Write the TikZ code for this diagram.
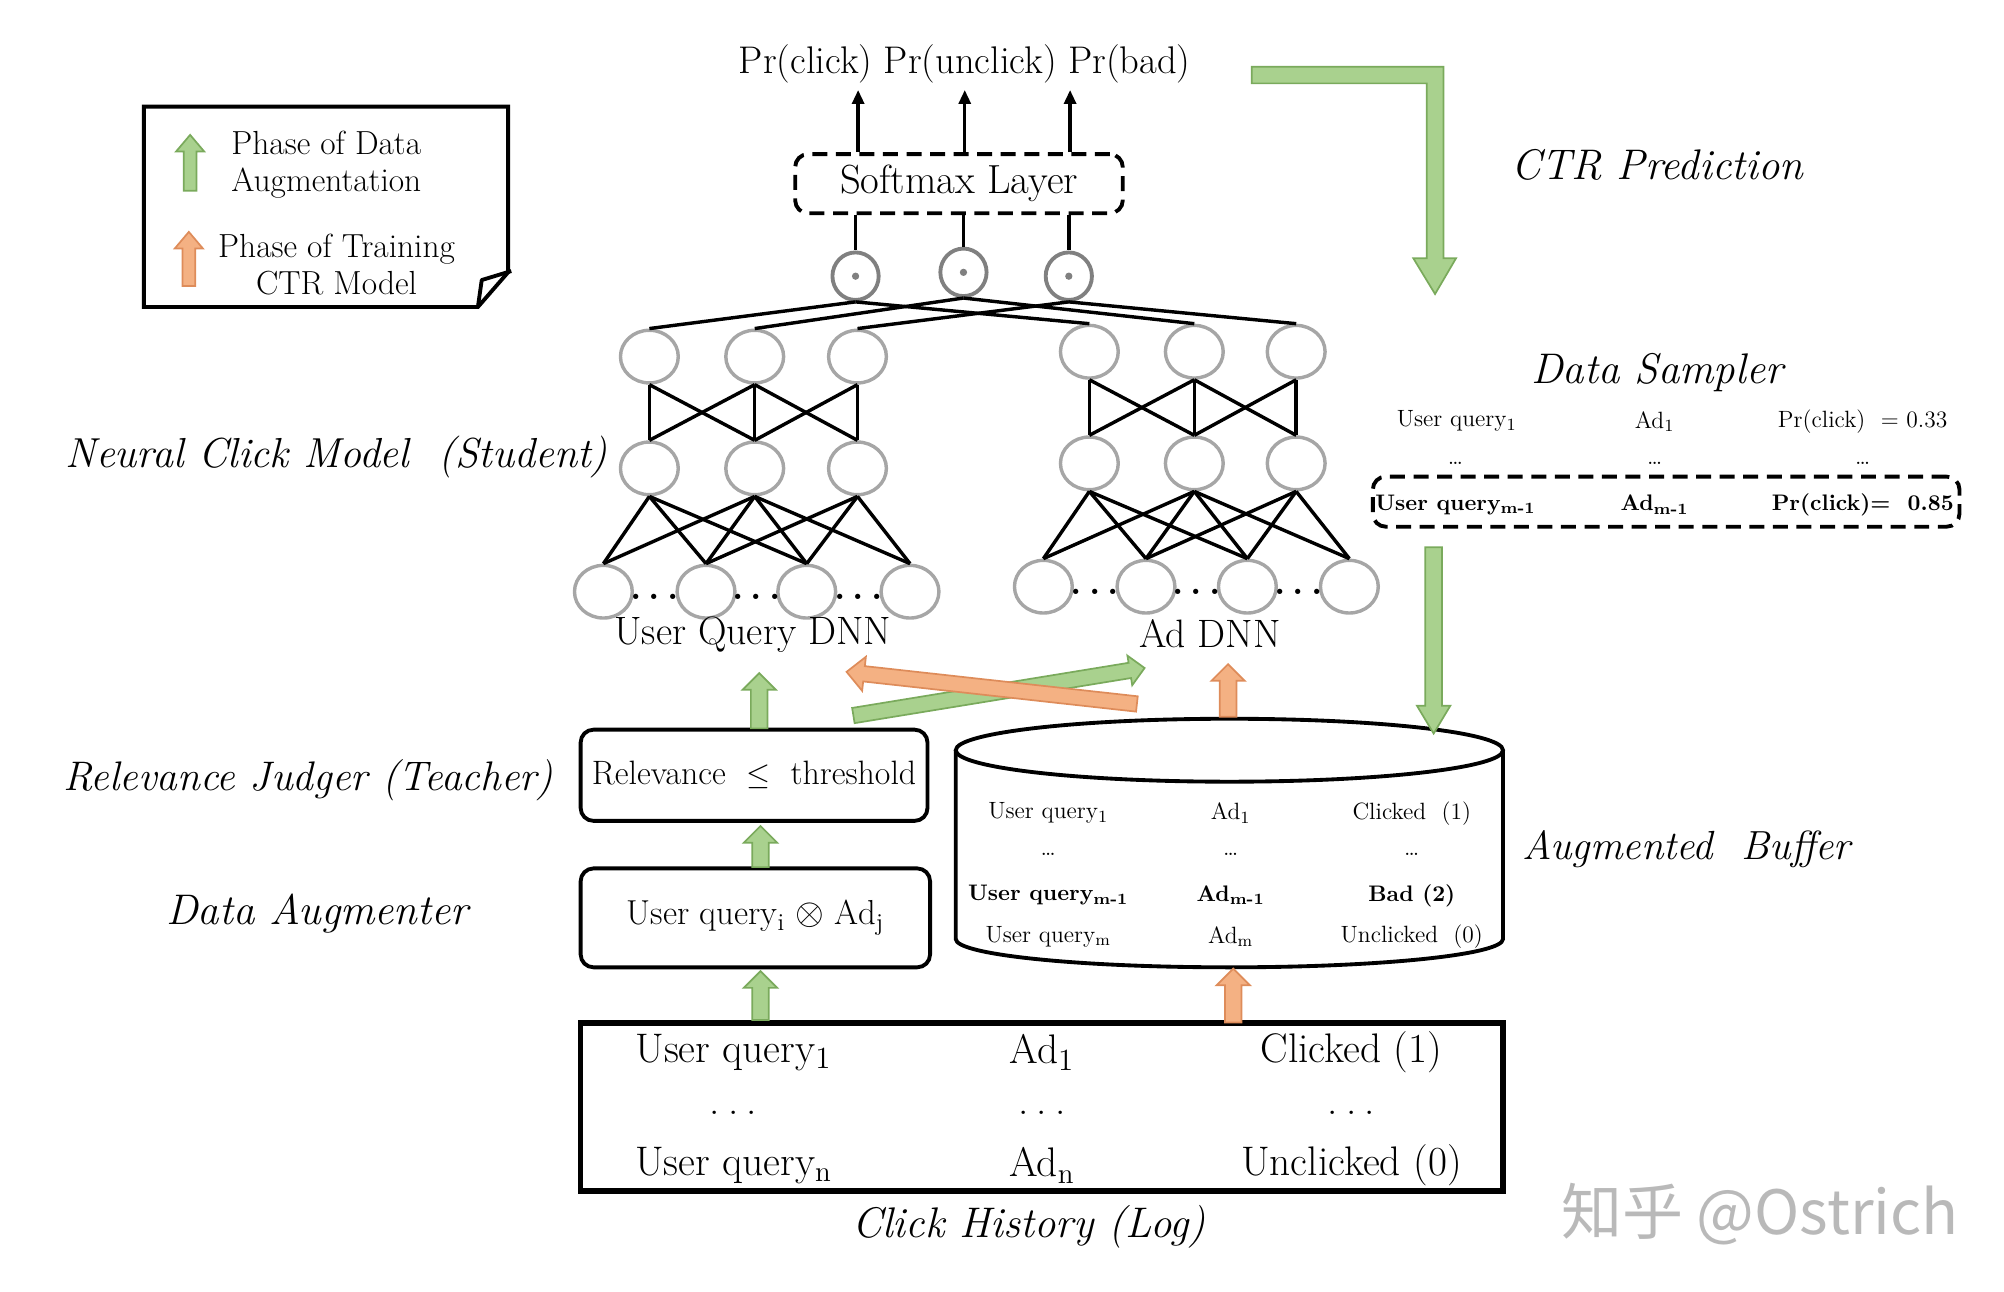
\documentclass[tikz,border=0pt]{standalone}
\usepackage{fontspec}
\newfontfamily\cjkfont{Noto Sans CJK SC}
\usetikzlibrary{shapes.geometric,arrows.meta,calc}
\definecolor{gfill}{RGB}{169,209,142}
\definecolor{gdraw}{RGB}{122,170,92}
\definecolor{ofill}{RGB}{244,177,131}
\definecolor{odraw}{RGB}{222,140,90}
\definecolor{neur}{RGB}{166,166,166}
\definecolor{dneur}{RGB}{128,128,128}
\definecolor{wmark}{RGB}{185,185,185}
\newcommand{\blkarrow}[6]{%
  \coordinate (bkH) at ($(#3)!#6!(#2)$);
  \filldraw[#1] ($(#2)!#4!90:(#3)$) -- ($(bkH)!#4!90:(#3)$) -- ($(bkH)!#5!90:(#3)$) -- (#3)
    -- ($(bkH)!#5!-90:(#3)$) -- ($(bkH)!#4!-90:(#3)$) -- ($(#2)!#4!-90:(#3)$) -- cycle;}
\newcommand{\tdots}{.\kern0.2em.\kern0.2em.}
\begin{document}
\begin{tikzpicture}[x=0.6pt,y=-0.6pt,
  neuron/.style={ellipse, draw=neur, line width=1.6pt, minimum width=27pt, minimum height=24.6pt, inner sep=0pt},
  dotn/.style={ellipse, draw=dneur, line width=1.8pt, minimum width=21.6pt, minimum height=22.2pt, inner sep=0pt},
  wire/.style={line width=1.6pt, black},
  big/.style={font=\fontsize{18.5}{21}\selectfont, inner sep=0pt},
  cal/.style={font=\fontsize{20}{23}\selectfont\itshape, inner sep=0pt},
  small/.style={font=\fontsize{11}{13}\selectfont, inner sep=0pt},
  smallb/.style={font=\fontsize{10.5}{13}\selectfont\bfseries, inner sep=0pt},
  logt/.style={font=\fontsize{19.3}{22}\selectfont, inner sep=0pt},
  legt/.style={font=\fontsize{15.6}{17.4}\selectfont, align=center, inner sep=0pt},
  rbox/.style={draw, line width=1.8pt, rounded corners=6pt, inner sep=0pt},
  dbox/.style={draw, line width=1.8pt, rounded corners=6pt, dash pattern=on 7pt off 4pt, inner sep=0pt},
  garr/.style={fill=gfill, draw=gdraw, line width=0.8pt},
  oarr/.style={fill=ofill, draw=odraw, line width=0.8pt},
  dotsl/.style={font=\fontsize{17}{19}\selectfont\bfseries, inner sep=0pt}
]
\useasboundingbox (0,0) rectangle (1560,1005.7);

% ---------- legend ----------
\draw[line width=1.8pt, line join=miter] (112,83) -- (395.5,83) -- (395.5,212) -- (372,239) -- (112,239) -- cycle;
\draw[line width=1.8pt, line join=round] (398,211) -- (375,218) -- (372,239);
\coordinate (lga) at (148,148.5); \coordinate (lgb) at (148,105);
\blkarrow{garr}{lga}{lgb}{3pt}{6.6pt}{7.8pt}
\coordinate (loa) at (147,222.7); \coordinate (lob) at (147,180.5);
\blkarrow{oarr}{loa}{lob}{3pt}{6.6pt}{7.8pt}
\node[legt] (leg1) at (254,128) {Phase of Data\\Augmentation};
\node[legt] (leg2) at (262,206) {Phase of Training\\CTR Model};

% ---------- section labels ----------
\node[cal, font=\fontsize{19.6}{23}\selectfont\itshape] (lNCM) at (262,356) {Neural Click Model \ (Student)};
\node[cal, font=\fontsize{19.3}{23}\selectfont\itshape] (lRJ) at (240,607) {Relevance Judger (Teacher)};
\node[cal] (lDA) at (247,711) {Data Augmenter};
\node[cal] (lCTR) at (1290,128) {CTR Prediction};
\node[cal] (lDS) at (1290,290) {Data Sampler};
\node[cal, font=\fontsize{19}{23}\selectfont\itshape] (lAB) at (1313,661) {Augmented \ Buffer};
\node[cal] (lCH) at (801,955) {Click History (Log)};

% ---------- output ----------
\node[big, font=\fontsize{18}{21}\selectfont] (pr) at (751,50) {Pr(click) Pr(unclick) Pr(bad)};
\node[dbox, minimum width=153pt, minimum height=27.6pt, font=\fontsize{19}{22}\selectfont] (sm) at (746.5,143) {Softmax Layer};
\coordinate (p1) at (668,70); \coordinate (p2) at (751,70); \coordinate (p3) at (833,70);
\foreach \i in {1,2,3} \draw[wire,-{Triangle[length=6.5pt,width=5.5pt]}] (p\i |- sm.north) -- (p\i);

% dot-product nodes
\node[dotn] (d1) at (666,215) {};
\node[dotn] (d2) at (750,212) {};
\node[dotn] (d3) at (832,215) {};
\foreach \i in {1,2,3} {
  \fill[dneur] (d\i) circle[radius=1.7pt];
  \draw[wire] (d\i.north |- sm.south) -- (d\i.north);
}

% ---------- user query DNN ----------
\foreach \i/\x in {1/505.5,2/587.5,3/667.5} {
  \node[neuron] (Lt\i) at (\x,277.6) {};
  \node[neuron] (Lm\i) at (\x,364.6) {};
}
\foreach \i/\x in {1/469.7,2/549.6,3/628,4/708.4} \node[neuron] (Lb\i) at (\x,460.6) {};
% ---------- ad DNN ----------
\foreach \i/\x in {1/848,2/929.7,3/1009} {
  \node[neuron] (Rt\i) at (\x,273.8) {};
  \node[neuron] (Rm\i) at (\x,360.7) {};
}
\foreach \i/\x in {1/812.2,2/892.1,3/971,4/1050.4} \node[neuron] (Rb\i) at (\x,456.7) {};

\foreach \s in {L,R} {
  \foreach \a/\b in {1/1,1/2,2/1,2/2,2/3,3/2,3/3} \draw[wire] (\s t\a.south) -- (\s m\b.north);
  \foreach \a/\b in {1/1,1/2,1/3,2/1,2/2,2/3,2/4,3/2,3/3,3/4} \draw[wire] (\s m\a.south) -- (\s b\b.north);
}
\foreach \i in {1,2,3} {
  \draw[wire] (d\i.south) -- (Lt\i.north);
  \draw[wire] (d\i.south) -- (Rt\i.north);
}
\node[dotsl] (ldots1) at (509.6,465) {\tdots};
\node[dotsl] (ldots2) at (588.8,465) {\tdots};
\node[dotsl] (ldots3) at (668.2,465) {\tdots};
\node[dotsl] (rdots1) at (852.2,461) {\tdots};
\node[dotsl] (rdots2) at (931.5,461) {\tdots};
\node[dotsl] (rdots3) at (1010.7,461) {\tdots};
\node[big] (uqdnn) at (586,494) {User Query DNN};
\node[big] (addnn) at (942,493) {Ad DNN};

% ---------- teacher / augmenter ----------
\node[rbox, minimum width=162pt, minimum height=42.6pt, font=\fontsize{15.8}{18}\selectfont] (rel) at (587,603.5) {Relevance \ $\leq$ \ threshold};
\node[rbox, minimum width=163.2pt, minimum height=46.2pt, font=\fontsize{16.2}{18}\selectfont] (aug) at (588,714.5) {User query$_{\mathrm{i}}$ $\otimes$ Ad$_{\mathrm{j}}$};

% ---------- click log ----------
\node[draw, line width=2.7pt, minimum width=431pt, minimum height=78.5pt, inner sep=0pt] (log) at (811,862) {};
\node[logt] at (571,819) {User query$_1$};
\node[logt] at (811,819) {Ad$_1$};
\node[logt] at (1052,819) {Clicked (1)};
\node[logt] at (571,866) {\tdots};
\node[logt] at (811,866) {\tdots};
\node[logt] at (1052,866) {\tdots};
\node[logt] at (571,907) {User query$_{\mathrm{n}}$};
\node[logt] at (811,907) {Ad$_{\mathrm{n}}$};
\node[logt] at (1052,907) {Unclicked (0)};

% ---------- augmented buffer (cylinder) ----------
\draw[line width=1.8pt] (744,584) -- (744,731) arc[start angle=180, end angle=0, x radius=213, y radius=22] -- (1170,584);
\draw[line width=1.8pt, fill=white] (957,584) ellipse[x radius=213, y radius=24.5];
\node[small] at (816,633) {User query$_1$};
\node[small] at (958,633) {Ad$_1$};
\node[small] at (1099,633) {Clicked \ (1)};
\node[small] at (816,665) {\dots};
\node[small] at (958,665) {\dots};
\node[small] at (1099,665) {\dots};
\node[smallb] at (816,697) {User query\textsubscript{m-1}};
\node[smallb] at (958,697) {Ad\textsubscript{m-1}};
\node[smallb] at (1099,697) {Bad (2)};
\node[small] at (816,729) {User query$_{\mathrm{m}}$};
\node[small] at (958,729) {Ad$_{\mathrm{m}}$};
\node[small] at (1099,729) {Unclicked \ (0)};

% ---------- data sampler ----------
\node[small] at (1134,328) {User query$_1$};
\node[small] at (1288,328) {Ad$_1$};
\node[small] at (1450,328) {Pr(click) \ = 0.33};
\node[small] at (1133,361) {\dots};
\node[small] at (1288,361) {\dots};
\node[small] at (1450,361) {\dots};
\node[dbox, minimum width=274pt, minimum height=23.4pt] (samp) at (1297,390.5) {};
\node[smallb] at (1133,393) {User query\textsubscript{m-1}};
\node[smallb] at (1288,393) {Ad\textsubscript{m-1}};
\node[smallb] at (1450,393) {Pr(click)= \ 0.85};

% ---------- block arrows ----------
% L-shaped arrow to CTR prediction
\filldraw[garr] (974.4,51.9) -- (1123.6,51.9) -- (1123.6,201.1) -- (1133.4,201.1) -- (1117.1,228.9)
  -- (1100.2,201.1) -- (1110.6,201.1) -- (1110.6,64.9) -- (974.4,64.9) -- cycle;
% sampler -> buffer
\coordinate (sa) at (1116,426); \coordinate (sb) at (1116,571);
\blkarrow{garr}{sa}{sb}{3.9pt}{7.8pt}{13pt}
% log -> augmenter
\coordinate (g1a) at (592,794); \coordinate (g1b) at (592,756);
\blkarrow{garr}{g1a}{g1b}{3.9pt}{7.8pt}{7.8pt}
% augmenter -> relevance
\coordinate (g2a) at (592,675); \coordinate (g2b) at (592,643);
\blkarrow{garr}{g2a}{g2b}{3.9pt}{7.8pt}{7.8pt}
% relevance -> user query DNN
\coordinate (g3a) at (591,567); \coordinate (g3b) at (591,524);
\blkarrow{garr}{g3a}{g3b}{3.9pt}{7.8pt}{7.8pt}
% log -> buffer
\coordinate (o1a) at (960,796); \coordinate (o1b) at (960,754);
\blkarrow{oarr}{o1a}{o1b}{3.9pt}{7.8pt}{7.8pt}
% buffer -> ad DNN
\coordinate (o2a) at (956,558); \coordinate (o2b) at (956,517);
\blkarrow{oarr}{o2a}{o2b}{3.9pt}{7.8pt}{7.8pt}
% diagonals
\coordinate (gda) at (664.3,557); \coordinate (gdb) at (891,520);
\blkarrow{garr}{gda}{gdb}{3.6pt}{7pt}{7pt}
\coordinate (oda) at (885,548); \coordinate (odb) at (659,523);
\blkarrow{oarr}{oda}{odb}{3.6pt}{8pt}{8.2pt}

% ---------- watermark ----------
\node[font=\cjkfont\fontsize{28.5}{32}\selectfont, text=wmark, inner sep=0pt] (wm) at (1370,945) {知乎 @Ostrich};
\end{tikzpicture}
\end{document}
